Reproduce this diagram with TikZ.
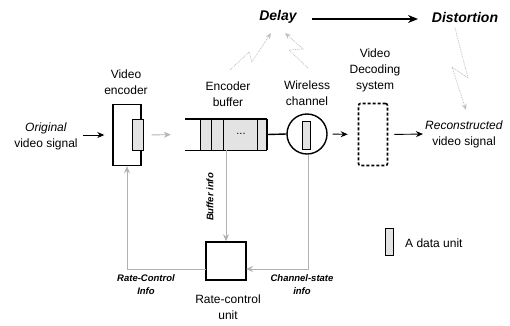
\documentclass[tikz,border=0pt]{standalone}
\usepackage{fontspec}
\setmainfont{Liberation Sans}
\usetikzlibrary{arrows.meta}
\begin{document}
\begin{tikzpicture}[x=1pt,y=-1pt,
  lbl/.style={font=\fontsize{12}{16}\selectfont, align=center, inner sep=0pt},
  bi/.style={font=\fontsize{9.5}{13}\selectfont\bfseries\itshape, align=center, inner sep=0pt},
  big/.style={font=\fontsize{14}{16}\selectfont\bfseries\itshape, inner sep=0pt},
  blk/.style={line width=0.9pt, -{Stealth[length=7pt,width=6pt]}},
  garr/.style={draw=gray!60, line width=0.9pt, -{Stealth[length=7pt,width=6pt,fill=gray!50]}},
  bolt/.style={draw=gray!50, densely dotted, line width=0.8pt, -{Stealth[length=6pt,width=5pt,fill=gray!40]}},
  unitbox/.style={draw, line width=0.5pt, fill=gray!22, inner sep=0pt},
  thickbox/.style={draw, line width=1.4pt, inner sep=0pt}
]
\useasboundingbox (0,0) rectangle (510,325);

% top: delay -> distortion
\node[big] (delay) at (278,17) {Delay};
\node[big] (dist) at (465,17) {Distortion};
\draw[line width=1.4pt, -{Stealth[length=10pt,width=8pt]}] (delay.east) ++(15,2) coordinate (da) -- (418,19) coordinate (db);

% input
\node[lbl] (orig) at (46,136) {\textit{Original}\\video signal};
% encoder
\node[lbl] (enclbl) at (126,82) {Video\\encoder};
\node[thickbox, minimum width=28pt, minimum height=61pt] (enc) at (127,135) {};
\node[unitbox, minimum width=11pt, minimum height=31pt] (encu) at (137.5,135) {};
\draw[blk, shorten <=5pt, shorten >=8pt] (orig.east |- enc.west) -- (enc.west);

% encoder buffer
\node[lbl] (buflbl) at (228,94) {Encoder\\buffer};
\node[inner sep=0pt, minimum width=82pt, minimum height=31pt] (buf) at (226,134.5) {};
\fill[gray!22] (200,119) rectangle (267,150);
\draw[line width=1.4pt] (buf.north west) -- (buf.north east);
\draw[line width=1.4pt] (buf.south west) -- (buf.south east);
\foreach \xx in {200,211,223,257} \draw[line width=0.6pt] (\xx,119) -- (\xx,150);
\draw[line width=1.4pt] (267,119) -- (267,150);
\node[font=\fontsize{11}{12}\selectfont, inner sep=0pt] (dots) at (241,134) {...};
\draw[garr, shorten <=10pt, shorten >=14pt] (enc.east) -- (buf.west);

% wireless channel
\node[lbl] (chanlbl) at (307,93) {Wireless\\channel};
\node[circle, draw, line width=1.4pt, minimum size=40pt, inner sep=0pt] (chan) at (307,134) {};
\node[unitbox, minimum width=8pt, minimum height=28pt] (chanu) at (306,135) {};
\draw[line width=1.4pt] (buf.east) -- (chan.west);

% decoder
\node[lbl] (declbl) at (375,70) {Video\\Decoding\\system};
\node[draw, densely dashed, line width=1.6pt, rounded corners=2pt, minimum width=29pt, minimum height=62pt, inner sep=0pt] (dec) at (373,134.5) {};
\draw[blk, shorten <=5pt, shorten >=10pt] (chan.east) -- (dec.west);

% output
\node[lbl] (rec) at (464,134) {\textit{Reconstructed}\\video signal};
\draw[blk, shorten <=6pt, shorten >=2pt] (dec.east) -- (rec.west);

% rate control unit
\node[thickbox, minimum width=40pt, minimum height=38pt] (rcu) at (226,261) {};
\node[lbl] (rculbl) at (228,307) {Rate-control\\unit};
\coordinate (rcl) at (206,269);
\coordinate (rcr) at (246,269);
\coordinate (lc) at (127,269);
\coordinate (rc) at (308,269);
\draw[garr] (buf.south) -- (rcu.north);
\draw[garr] (chan.south -| rc) -- (rc) -- (rcr);
\draw[garr] (rcl) -- (lc) -- (enc.south);
\node[bi, rotate=90] (bufinfo) at (210,197) {Buffer info};
\node[bi] (rcinfo) at (146,285) {Rate-Control\\Info};
\node[bi] (csinfo) at (302,285) {Channel-state\\info};

% legend
\node[unitbox, minimum width=8pt, minimum height=27pt] (leg) at (389,242) {};
\node[lbl, anchor=west] (leglbl) at (405,243) {A data unit};

% lightning bolts
\coordinate (b1s) at (230,70);
\coordinate (b2s) at (308,68);
\draw[bolt] (b1s) -- (249,52) -- (252,62) -- (271,33);
\draw[bolt] (b2s) -- (289,50) -- (303,49) -- (285,33);
\draw[bolt] (455,28) -- (468,78) -- (452,67) -- (466,110);
\end{tikzpicture}
\end{document}
